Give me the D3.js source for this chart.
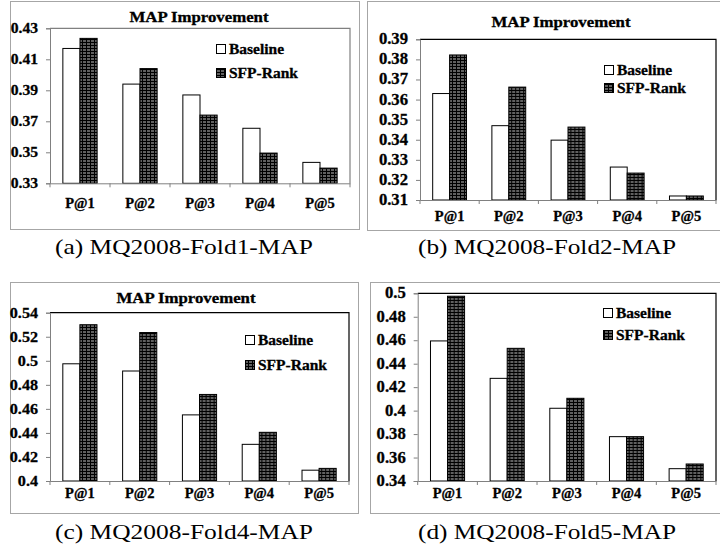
<!DOCTYPE html>
<html>
<head>
<meta charset="utf-8">
<script src="https://cdn.jsdelivr.net/npm/d3@7"></script>
<style>
  body { margin: 0; background: #fff; }
  svg { display: block; }
</style>
</head>
<body>
<svg id="fig" width="720" height="549"></svg>
<script>
// categories and series shared by the four panels
const categories = ["P@1", "P@2", "P@3", "P@4", "P@5"];
const series = ["Baseline", "SFP-Rank"];

// values
const fold1Baseline = [0.417, 0.394, 0.387, 0.3655, 0.3435];
const fold1Sfp      = [0.4235, 0.404, 0.374, 0.3495, 0.3398];
const fold2Baseline = [0.363, 0.347, 0.3398, 0.3264, 0.312];
const fold2Sfp      = [0.3822, 0.3662, 0.3463, 0.3234, 0.312];
const fold4Baseline = [0.4975, 0.4915, 0.455, 0.4305, 0.409];
const fold4Sfp      = [0.5300, 0.5235, 0.472, 0.4405, 0.4105];
const fold5Baseline = [0.4594, 0.4275, 0.402, 0.3778, 0.3505];
const fold5Sfp      = [0.4975, 0.4531, 0.4105, 0.3778, 0.3545];

// y tick values
const fold1Ticks = [0.33, 0.35, 0.37, 0.39, 0.41, 0.43];
const fold2Ticks = [0.31, 0.32, 0.33, 0.34, 0.35, 0.36, 0.37, 0.38, 0.39];
const fold4Ticks = [0.40, 0.42, 0.44, 0.46, 0.48, 0.50, 0.52, 0.54];
const fold5Ticks = [0.34, 0.36, 0.38, 0.40, 0.42, 0.44, 0.46, 0.48, 0.50];

const captions = ["(a) MQ2008-Fold1-MAP", "(b) MQ2008-Fold2-MAP",
                  "(c) MQ2008-Fold4-MAP", "(d) MQ2008-Fold5-MAP"];

const panels = [
  { base: fold1Baseline, sfp: fold1Sfp, ticks: fold1Ticks, title: "MAP Improvement",
    frame: [10, 1, 349, 228], plot: { l: 50, t: 28.3, r: 350, b: 183.3 }, border: "#808080",
    titlePos: [199, 22], legend: [216, 44, 24], xLabY: 208, yFont: 15,
    caption: [184, 254] },
  { base: fold2Baseline, sfp: fold2Sfp, ticks: fold2Ticks, title: "MAP Improvement",
    frame: [367, 1, 360, 229], plot: { l: 420, t: 39.3, r: 716, b: 200 }, border: "#000",
    titlePos: [561, 27], legend: [604, 65, 18], xLabY: 221, yFont: 16,
    caption: [547, 254] },
  { base: fold4Baseline, sfp: fold4Sfp, ticks: fold4Ticks, title: "MAP Improvement",
    frame: [10, 282, 348, 231], plot: { l: 50, t: 312.7, r: 349, b: 481 }, border: "#000",
    titlePos: [186, 303], legend: [245, 335, 25], xLabY: 498, yFont: 15.5,
    caption: [184, 539] },
  { base: fold5Baseline, sfp: fold5Sfp, ticks: fold5Ticks, title: null,
    frame: [370, 282, 355, 231], plot: { l: 417.7, t: 293.3, r: 716, b: 481 }, border: "#000",
    titlePos: null, legend: [603, 308, 22], xLabY: 498, yFont: 16,
    caption: [547, 539] }
];

const svg = d3.select("#fig");
const serif = "'Liberation Serif', 'Times New Roman', serif";

// grid pattern used for the SFP-Rank bars
const pat = svg.append("defs").append("pattern")
  .attr("id", "grid")
  .attr("patternUnits", "userSpaceOnUse")
  .attr("width", 4).attr("height", 3);
pat.append("rect").attr("width", 4).attr("height", 3).attr("fill", "#606060");
pat.append("rect").attr("width", 4).attr("height", 1).attr("fill", "#000");
pat.append("rect").attr("width", 1).attr("height", 3).attr("fill", "#000");

// bold text, stretched a little sideways like the source image
function label(g, txt, x, y, size, anchor, sx) {
  return g.append("text")
    .attr("transform", `translate(${x},${y}) scale(${sx || 1},1)`)
    .attr("text-anchor", anchor || "start")
    .attr("font-family", serif)
    .attr("font-weight", "bold")
    .attr("font-size", size)
    .attr("fill", "#000")
    .attr("stroke", "#000").attr("stroke-width", 0.3)
    .text(txt);
}

panels.forEach((p, i) => {
  const g = svg.append("g");
  const [fx, fy, fw, fh] = p.frame;

  // outer chart frame
  g.append("rect")
    .attr("x", fx + 0.5).attr("y", fy + 0.5)
    .attr("width", fw).attr("height", fh)
    .attr("fill", "#fff").attr("stroke", "#a6a6a6").attr("stroke-width", 1);

  const x0 = d3.scaleBand().domain(categories).range([p.plot.l, p.plot.r]);
  const x1 = d3.scaleBand().domain(series).range([0, x0.bandwidth()])
    .paddingInner(0).paddingOuter(0.75);
  const y = d3.scaleLinear()
    .domain([p.ticks[0], p.ticks[p.ticks.length - 1]])
    .range([p.plot.b, p.plot.t]);

  // plot area border (top & right)
  g.append("path")
    .attr("d", `M${p.plot.l},${p.plot.t}H${p.plot.r}V${p.plot.b}`)
    .attr("fill", "none").attr("stroke", p.border).attr("stroke-width", 1.2);

  // bars
  const rows = categories.map((c, k) => ({ cat: c, vals: [p.base[k], p.sfp[k]] }));
  const grp = g.selectAll(".cat").data(rows).enter().append("g")
    .attr("transform", d => `translate(${x0(d.cat)},0)`);
  grp.selectAll("rect")
    .data(d => d.vals.map((v, s) => ({ s: series[s], v })))
    .enter().append("rect")
    .attr("x", d => x1(d.s))
    .attr("y", d => y(d.v))
    .attr("width", x1.bandwidth())
    .attr("height", d => y(p.ticks[0]) - y(d.v))
    .attr("fill", d => d.s === "Baseline" ? "#fff" : "url(#grid)")
    .attr("stroke", "#000").attr("stroke-width", 1);

  // y axis
  const yAxis = g.append("g")
    .attr("transform", `translate(${p.plot.l},0)`)
    .call(d3.axisLeft(y).tickValues(p.ticks).tickSize(4).tickFormat(() => ""));
  yAxis.selectAll("path, line").attr("stroke", "#808080");
  p.ticks.forEach(t => {
    label(g, String(+t.toFixed(2)), p.plot.l - 12, y(t) + 5, p.yFont, "end", 1.04);
  });

  // x axis with ticks at category boundaries
  const xAxis = g.append("g")
    .attr("transform", `translate(0,${p.plot.b})`)
    .call(d3.axisBottom(x0).tickSize(0).tickFormat(() => ""));
  xAxis.select("path").attr("stroke", "#808080");
  xAxis.selectAll(".tick").remove();
  const bounds = categories.map(c => x0(c)).concat([p.plot.r]);
  g.selectAll(".xt").data(bounds).enter().append("line")
    .attr("x1", d => d).attr("x2", d => d)
    .attr("y1", p.plot.b).attr("y2", p.plot.b + 4)
    .attr("stroke", "#808080");
  categories.forEach(c => {
    label(g, c, x0(c) + x0.bandwidth() / 2, p.xLabY, 14.5, "middle", 1.0);
  });

  // title
  if (p.title) label(g, p.title, p.titlePos[0], p.titlePos[1], 15, "middle", 1.12);

  // legend
  const [lx, ly, ldy] = p.legend;
  series.forEach((s, k) => {
    g.append("rect")
      .attr("x", lx + 0.5).attr("y", ly + k * ldy + 0.5)
      .attr("width", 9).attr("height", 9)
      .attr("fill", k === 0 ? "#fff" : "url(#grid)")
      .attr("stroke", "#000");
    label(g, s, lx + 13, ly + k * ldy + 10, 14.5, "start", 1.07);
  });

  // caption
  svg.append("text")
    .attr("x", p.caption[0]).attr("y", p.caption[1])
    .attr("text-anchor", "middle")
    .attr("font-family", serif)
    .attr("font-size", 22)
    .attr("textLength", 258).attr("lengthAdjust", "spacingAndGlyphs")
    .text(captions[i]);
});
</script>
</body>
</html>
